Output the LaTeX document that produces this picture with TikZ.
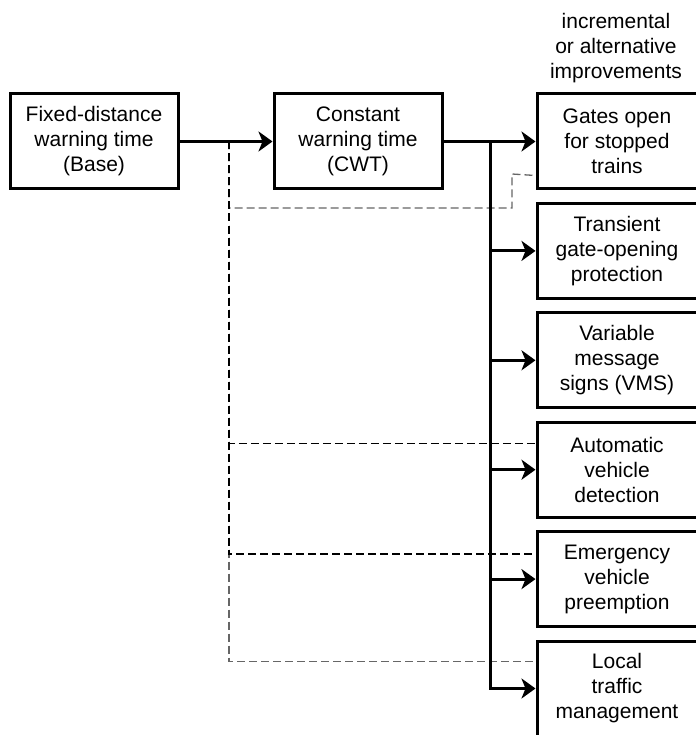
\documentclass[tikz,border=0pt]{standalone}
\usepackage{fontspec}
\setmainfont{Liberation Sans}
\usetikzlibrary{arrows.meta,calc}
\begin{document}
\begin{tikzpicture}[x=1pt,y=-1pt,
  box/.style={draw,line width=3pt,fill=white,minimum height=95pt,inner sep=0pt,
    align=center,font=\fontsize{21pt}{25pt}\selectfont},
  lbox/.style={box,minimum width=168pt},
  rbox/.style={box,minimum width=160pt},
  arr/.style={line width=3pt,-{Stealth[length=14pt,width=20pt,inset=4pt]}},
  dashblack/.style={draw=black,line width=1.3pt,dash pattern=on 8pt off 4pt},
  dashgrey/.style={draw=black!60,line width=1.3pt,dash pattern=on 8pt off 4pt},
  head/.style={align=center,font=\fontsize{21pt}{25pt}\selectfont,inner sep=0pt}]
\useasboundingbox (0,0) rectangle (695,735);

% base and CWT stages
\node[lbox] (base) at (94,141.5) {Fixed-distance\\warning time\\(Base)};
\node[lbox] (cwt) at (358,141.5) {Constant\\warning time\\(CWT)};

% column of improvements
\node[head] (title) at (616,48) {incremental\\or alternative\\improvements};
\node[rbox] (gates) at (617,141.5) {Gates open\\for stopped\\trains};
\node[rbox] (trans) at (617,250.9) {Transient\\gate-opening\\protection};
\node[rbox] (vms)   at (617,360.3) {Variable\\message\\signs (VMS)};
\node[rbox] (auto)  at (617,469.7) {Automatic\\vehicle\\detection};
\node[rbox] (emerg) at (617,579.1) {Emergency\\vehicle\\preemption};
\node[rbox] (local) at (617,688.5) {Local\\traffic\\management};

% junction points
\coordinate (dj) at (229,141.5);
\coordinate (br) at (490,141.5);

% dashed links from the base stage
\draw[dashgrey] (dj) -- (229,208) -- (512,208) -- (512,174) -- ($(gates.south west)+(0,-15)$);
\draw[dashgrey] (dj) |- ($(local.north west)+(0,22)$);
\draw[dashblack] (dj) |- ($(auto.north west)+(0,23)$);
\draw[dashblack] (dj) |- ($(emerg.north west)+(0,24)$);

% main flow
\draw[arr] (base.east) -- (cwt.west);
\draw[arr] (cwt.east) -- (gates.west);
\draw[arr] (br) |- (trans.west);
\draw[arr] (br) |- (vms.west);
\draw[arr] (br) |- (auto.west);
\draw[arr] (br) |- (emerg.west);
\draw[arr] (br) |- (local.west);
\end{tikzpicture}
\end{document}
